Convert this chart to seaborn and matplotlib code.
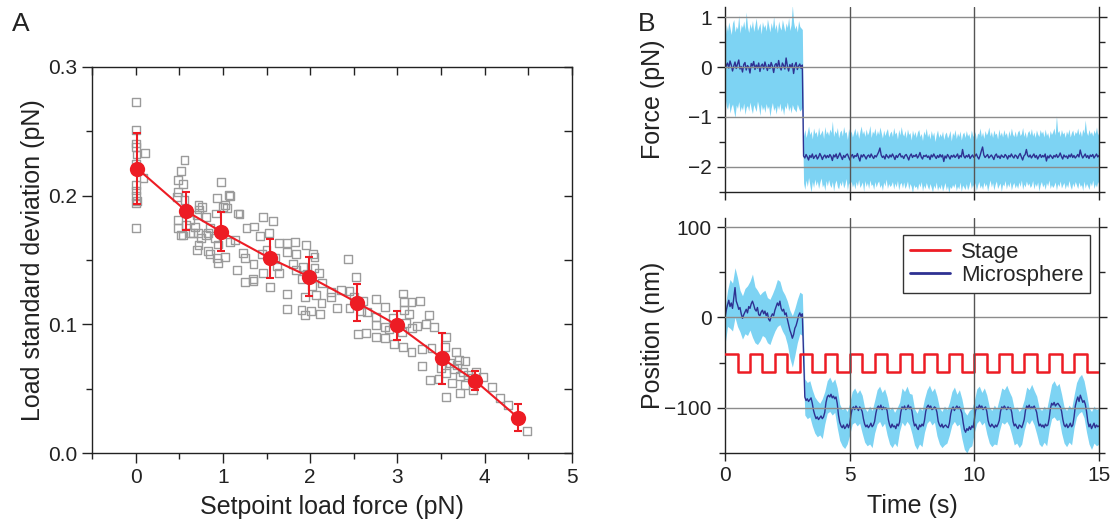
import numpy as np
import pandas as pd
import matplotlib
matplotlib.use("Agg")
import matplotlib.pyplot as plt
import seaborn as sns
from matplotlib.ticker import MultipleLocator, FixedLocator

# ---------------- Panel A data ----------------
scatter_x = [0.0, 0.0, 0.0, 0.0, 0.0, 0.0, 0.0, 0.0, 0.0, 0.0, 0.11, 0.09, 0.01, 0.02,
             0.56, 0.52, 0.54, 0.49, 0.49, 0.47, 0.72, 0.73, 0.81, 0.70, 0.49, 0.52, 0.68,
             0.71, 0.66, 0.75, 0.85, 0.81, 0.72, 0.83, 0.93, 0.94, 1.02, 0.93, 0.98, 1.07,
             1.02, 0.92, 1.17, 1.05, 0.91, 1.08, 1.14, 1.27, 1.23, 1.25, 1.16, 0.58, 0.62,
             0.49, 0.56, 1.25, 1.34, 1.19, 0.76, 0.54, 0.62, 0.70, 0.85, 1.00, 0.83, 0.94, 1.08,
             1.46, 1.57, 1.36, 1.42, 1.53, 1.64, 1.73, 1.83, 1.95, 1.73, 1.84, 2.03, 2.05,
             1.35, 1.35, 1.46, 1.54, 1.64, 1.80, 1.84, 1.92, 2.05, 2.14, 2.24, 2.35, 2.45,
             2.43, 2.52, 1.73, 1.94, 2.07, 2.13, 1.73, 1.90, 2.01, 2.11, 1.94, 2.31, 2.24,
             2.75, 2.65, 2.86, 2.75, 2.75, 2.86, 3.06, 3.16, 3.26, 3.07, 3.07, 3.13, 3.36,
             3.33, 3.42, 3.22, 3.17, 2.55, 2.64, 2.75, 2.86, 2.96, 3.06, 3.16, 3.28, 3.39,
             3.28, 1.96, 2.02, 1.90, 2.10, 1.60, 1.50, 1.45, 1.62, 2.50, 2.60, 2.45, 2.58,
             3.00, 2.95, 3.05, 2.90, 3.10,
             3.56, 3.54, 3.67, 3.77, 3.68, 3.37, 3.47, 3.56, 3.62, 3.72, 3.81, 3.77, 3.87,
             3.98, 4.08, 3.56, 3.72, 4.17, 4.27, 4.48, 3.60, 3.65, 3.70, 3.75, 3.50, 3.85, 3.90]
scatter_y = [0.273, 0.251, 0.2406, 0.238, 0.225, 0.208, 0.204, 0.200, 0.194, 0.175, 0.233, 0.214, 0.232, 0.196,
             0.2277, 0.2191, 0.2088, 0.2121, 0.2026, 0.1992, 0.1927, 0.1893, 0.1836, 0.1849, 0.1746, 0.1694, 0.1758,
             0.1707, 0.1707, 0.1668, 0.1746, 0.1694, 0.1616, 0.157, 0.1513, 0.1474, 0.1525, 0.1979, 0.2108, 0.2005,
             0.1927, 0.1862, 0.1862, 0.1901, 0.1668, 0.1642, 0.1655, 0.1751, 0.1552, 0.1513, 0.1422, 0.1772, 0.181,
             0.181, 0.1966, 0.133, 0.135, 0.186, 0.191, 0.169, 0.171, 0.158, 0.155, 0.191, 0.171, 0.162, 0.200,
             0.1836, 0.180, 0.176, 0.1686, 0.171, 0.163, 0.163, 0.164, 0.1616, 0.156, 0.155, 0.155, 0.1525,
             0.147, 0.134, 0.1396, 0.1287, 0.1396, 0.147, 0.142, 0.1447, 0.1435, 0.1323, 0.1253, 0.127, 0.126,
             0.1505, 0.1365, 0.1235, 0.121, 0.1228, 0.1168, 0.1117, 0.111, 0.1106, 0.108, 0.1072, 0.1124, 0.1215,
             0.1197, 0.1098, 0.1132, 0.1059, 0.0995, 0.0981, 0.124, 0.1176, 0.1183, 0.1176, 0.111, 0.108, 0.1072,
             0.1002, 0.0977, 0.0987, 0.0969, 0.0925, 0.0935, 0.0904, 0.0891, 0.0847, 0.0826, 0.0787, 0.0806, 0.0813,
             0.0676, 0.139, 0.130, 0.135, 0.140, 0.152, 0.158, 0.155, 0.145, 0.121, 0.118, 0.113, 0.110,
             0.100, 0.105, 0.094, 0.096, 0.101,
             0.0904, 0.0826, 0.0787, 0.0715, 0.0684, 0.0567, 0.0573, 0.0619, 0.0542, 0.0598, 0.0606, 0.0528, 0.049,
             0.0588, 0.051, 0.0438, 0.0464, 0.0425, 0.0373, 0.0173, 0.070, 0.065, 0.072, 0.063, 0.066, 0.058, 0.063]

mean_x = [0.02, 0.58, 0.98, 1.54, 1.99, 2.54, 3.00, 3.51, 3.89, 4.38]
mean_y = [0.221, 0.188, 0.172, 0.1513, 0.137, 0.1168, 0.0992, 0.0736, 0.0562, 0.0275]
mean_err = [0.0275, 0.015, 0.015, 0.015, 0.0153, 0.0144, 0.0113, 0.0197, 0.0074, 0.0103]

# ---------------- Panel B data ----------------
# Force (units of 0.01 pN)
force_pre_mid = [-5, 3, 8, -2, 12, 4, -8, 2, 10, -3, 6, 14, -4, 1, -10, 5, 9, -6, 3, 0, -12, 7, 2, 11,
                 -5, 4, -2, 8, -9, 3, 6, -4, 10, 1, -7, 5, -3, 9, 2, -11, 4, 7, -2, 13, 0, -6, 8, 3,
                 -4, 18, 2, -8, 5, -1, 7, -13, 3, 9, -5, 2, 6, -3, 4]
force_pre_hi = [55, 85, 72, 90, 78, 65, 88, 95, 70, 82, 76, 104, 68, 85, 79, 92, 74, 110, 81, 69, 87, 77,
                93, 71, 84, 98, 73, 80, 88, 66, 91, 79, 85, 72, 96, 83, 70, 89, 77, 102, 75, 86, 68, 92,
                80, 74, 95, 83, 71, 88, 79, 99, 73, 85, 124, 90, 76, 84, 70, 93, 81, 78, 75]
force_pre_lo = [-60, -78, -85, -70, -92, -80, -74, -88, -101, -76, -83, -69, -90, -79, -86, -72, -95, -81,
                -77, -88, -70, -84, -93, -75, -82, -89, -68, -80, -97, -74, -86, -79, -91, -73, -84, -78,
                -99, -82, -71, -87, -80, -94, -76, -85, -72, -89, -81, -96, -77, -84, -70, -88, -79, -92,
                -75, -83, -86, -90, -74, -82, -88, -85, -80]
force_post_mid = [
    -178, -182, -175, -180, -186, -177, -181, -174, -183, -179,
    -176, -184, -180, -173, -178, -185, -179, -176, -182, -177,
    -181, -175, -179, -187, -176, -180, -174, -183, -178, -172,
    -179, -185, -177, -181, -176, -174, -180, -186, -178, -175,
    -182, -177, -179, -173, -181, -188, -176, -180, -175, -179,
    -184, -178, -176, -181, -174, -179, -183, -177, -180, -175,
    -170, -162, -176, -181, -178, -184, -175, -179, -182, -176,
    -180, -174, -179, -185, -177, -181, -176, -173, -180, -178,
    -183, -177, -175, -180, -186, -178, -174, -181, -177, -179,
    -175, -182, -178, -171, -180, -184, -177, -179, -176, -181,
    -178, -185, -176, -180, -174, -179, -183, -177, -181, -175,
    -180, -176, -189, -178, -182, -175, -179, -184, -177, -180,
    -176, -181, -178, -174, -183, -177, -180, -165, -178, -182,
    -177, -180, -175, -183, -179, -176, -181, -178, -174, -180,
    -184, -177, -168, -160, -176, -181, -178, -175, -182, -179,
    -176, -180, -185, -177, -174, -181, -178, -183, -176, -179,
    -181, -175, -178, -184, -177, -180, -174, -179, -182, -176,
    -178, -183, -177, -173, -180, -186, -178, -175, -165, -177,
    -180, -176, -182, -178, -174, -181, -177, -184, -179, -175,
    -181, -177, -180, -174, -188, -178, -182, -176, -179, -183,
    -177, -180, -175, -181, -178, -172, -179, -184, -176, -180,
    -178, -183, -176, -180, -174, -181, -177, -182, -179, -175,
    -180, -166, -176, -182, -178, -174, -181, -177, -183, -176,
    -179, -175, -182, -178, -174, -180, -177]
force_post_hi = [
    -138, -125, -141, -130, -118, -135, -128, -144, -122, -133,
    -129, -140, -120, -136, -131, -126, -143, -119, -134, -128,
    -137, -124, -131, -108, -139, -127, -133, -121, -142, -130,
    -126, -138, -119, -132, -129, -145, -123, -135, -128, -140,
    -131, -122, -137, -126, -143, -129, -118, -134, -127, -139,
    -124, -136, -130, -117, -141, -128, -133, -122, -138, -127,
    -135, -120, -131, -142, -126, -137, -129, -123, -140, -132,
    -128, -139, -121, -134, -130, -144, -125, -136, -119, -133,
    -138, -127, -142, -124, -135, -131, -146, -126, -137, -129,
    -141, -130, -125, -139, -133, -147, -128, -136, -122, -140,
    -132, -144, -127, -138, -130, -149, -135, -126, -141, -133,
    -139, -128, -145, -134, -130, -142, -136, -127, -148, -131,
    -137, -125, -143, -132, -139, -128, -146, -134, -130, -141,
    -127, -138, -133, -144, -126, -136, -140, -129, -145, -132,
    -135, -122, -139, -130, -143, -127, -136, -131, -120, -138,
    -129, -141, -126, -135, -132, -144, -124, -137, -130, -140,
    -125, -136, -131, -143, -127, -138, -122, -134, -139, -128,
    -140, -130, -126, -137, -133, -121, -139, -129, -142, -131,
    -127, -136, -123, -138, -130, -141, -126, -134, -139, -125,
    -133, -128, -140, -124, -137, -131, -143, -127, -135, -130,
    -122, -136, -97, -131, -127, -139, -125, -134, -130, -141,
    -128, -135, -124, -140, -131, -126, -138, -129, -133, -122,
    -136, -127, -139, -124, -132, -106, -130, -137, -125, -134,
    -129, -138, -126, -133, -120, -136, -128]
force_post_lo = [
    -232, -245, -226, -239, -221, -236, -250, -229, -241, -224,
    -237, -228, -243, -231, -222, -240, -234, -247, -227, -238,
    -225, -236, -241, -229, -248, -233, -226, -239, -244, -230,
    -238, -227, -242, -235, -223, -246, -231, -237, -228, -240,
    -233, -244, -229, -238, -225, -241, -236, -230, -249, -227,
    -239, -231, -243, -226, -237, -234, -245, -229, -240, -232,
    -228, -241, -235, -247, -230, -238, -224, -243, -233, -239,
    -236, -229, -244, -232, -240, -227, -246, -234, -231, -242,
    -230, -243, -237, -228, -245, -233, -239, -252, -235, -241,
    -238, -246, -232, -240, -229, -248, -236, -243, -231, -239,
    -245, -233, -241, -250, -236, -243, -230, -247, -238, -244,
    -234, -248, -240, -231, -246, -237, -252, -239, -243, -235,
    -241, -232, -247, -238, -244, -230, -249, -236, -240, -245,
    -233, -246, -239, -228, -243, -235, -241, -231, -247, -237,
    -229, -242, -236, -245, -230, -239, -233, -248, -237, -226,
    -240, -231, -246, -235, -228, -243, -237, -232, -249, -234,
    -238, -227, -244, -233, -240, -229, -246, -236, -231, -242,
    -235, -243, -230, -239, -226, -245, -234, -240, -228, -237,
    -232, -241, -237, -227, -244, -233, -239, -230, -248, -236,
    -229, -240, -234, -245, -231, -238, -226, -243, -235, -241,
    -237, -230, -246, -233, -239, -228, -242, -236, -231, -244,
    -234, -241, -227, -238, -245, -232, -240, -229, -236, -243,
    -230, -239, -235, -247, -228, -242, -233, -238, -245, -231,
    -238, -226, -243, -234, -240, -229, -236]

# Position (nm)
pos_pre_mid = [0, 8, 14, 19, 12, 16, 10, 22, 33, 18, 14, 9, 11, 4, -1, 3, 6, 9, 5, 12, 10, 15, 18, 14,
               9, 7, 11, 3, 2, 6, 8, 4, 7, 2, 5, -2, -4, 1, 4, 2, 8, 12, 16, 13, 18, 10, 7, 9, 3, 5,
               -2, -8, -14, -18, -23, -19, -12, -9, -4, 2, 5, 1, 4]
pos_pre_hi = [10, 30, 42, 38, 55, 44, 30, 24, 32, 35, 40, 48, 34, 30, 25, 28, 30, 22, 20, 26, 33, 42,
              40, 30, 25, 18, 8, 2, 10, 20, 28, 26]
pos_pre_lo = [-30, -10, -12, -15, 0, -10, -16, -24, -18, -20, -14, -22, -28, -30, -26, -20, -22, -28,
              -30, -22, -15, -10, -8, -15, -20, -30, -45, -55, -42, -28, -18, -20]
pos_post_mid = [
    -88, -92, -90, -93, -91, -89,
    -95, -103, -108, -112, -110, -113, -111, -109, -112, -110,
    -105, -94, -88, -86, -88, -85, -89, -87, -90, -88,
    -95, -108, -116, -120, -122, -119, -123, -121, -118, -122,
    -118, -108, -101, -99, -102, -98, -100, -103, -99, -101,
    -104, -112, -118, -121, -119, -122, -120, -117, -121, -119,
    -115, -106, -100, -98, -101, -97, -102, -99, -101, -100,
    -103, -113, -119, -122, -118, -121, -120, -123, -118, -120,
    -116, -105, -99, -101, -98, -102, -100, -97, -101, -99,
    -104, -114, -120, -118, -122, -124, -119, -121, -118, -120,
    -114, -104, -99, -97, -100, -98, -102, -101, -99, -100,
    -105, -115, -119, -121, -118, -122, -120, -119, -121, -122,
    -117, -107, -101, -99, -103, -100, -98, -101, -99, -102,
    -106, -116, -124, -127, -123, -125, -121, -124, -120, -122,
    -113, -103, -99, -101, -97, -100, -98, -102, -100, -99,
    -104, -114, -119, -121, -118, -120, -122, -119, -121, -118,
    -114, -104, -99, -101, -98, -100, -102, -99, -101, -100,
    -105, -115, -120, -118, -121, -123, -119, -120, -122, -118,
    -113, -103, -98, -100, -97, -101, -99, -100, -98, -101,
    -105, -114, -120, -118, -121, -119, -122, -118, -120, -119,
    -112, -101, -95, -97, -94, -98, -96, -95, -97, -99,
    -104, -113, -119, -121, -118, -122, -120, -117, -121, -119,
    -110, -98, -92, -88, -93, -86, -90, -94, -92, -96,
    -104, -115, -121, -118, -123, -120, -117, -122, -119, -121,
    -120]
pos_post_hi = [
    -68, -72, -70,
    -80, -88, -92, -95, -90, -82, -70, -66, -72, -68,
    -78, -96, -102, -100, -104, -95, -82, -78, -84, -80,
    -86, -100, -104, -98, -103, -92, -80, -76, -83, -79,
    -88, -102, -99, -105, -100, -94, -78, -82, -76, -84,
    -85, -101, -106, -99, -103, -90, -80, -75, -82, -78,
    -87, -100, -104, -98, -102, -94, -82, -77, -85, -80,
    -90, -104, -108, -103, -101, -92, -79, -76, -83, -78,
    -86, -99, -103, -97, -101, -90, -78, -80, -75, -82,
    -88, -101, -99, -104, -100, -91, -77, -80, -74, -81,
    -87, -100, -103, -98, -102, -88, -74, -70, -76, -73,
    -85, -99, -103, -97, -101, -86, -72, -66, -63, -70,
    -84, -100, -104, -98, -102, -100]
pos_post_lo = [
    -108, -112, -110,
    -120, -128, -132, -130, -134, -118, -106, -104, -108, -105,
    -122, -136, -142, -145, -140, -130, -118, -116, -120, -117,
    -128, -138, -142, -140, -144, -128, -118, -115, -121, -117,
    -130, -140, -144, -139, -143, -126, -116, -120, -115, -119,
    -129, -141, -146, -140, -143, -127, -117, -114, -119, -116,
    -131, -140, -144, -141, -139, -130, -119, -115, -120, -118,
    -134, -146, -150, -144, -142, -127, -117, -114, -119, -116,
    -129, -139, -143, -140, -141, -126, -116, -118, -115, -120,
    -130, -141, -139, -144, -140, -125, -115, -118, -113, -119,
    -129, -140, -143, -138, -142, -124, -112, -110, -114, -113,
    -128, -139, -143, -138, -141, -122, -110, -106, -104, -111,
    -127, -140, -146, -139, -142, -140]
stage_nm = [-40, -60, -40, -60, -40, -60, -40, -60, -40, -60, -40, -60, -40, -60, -40, -60,
            -40, -60, -40, -60, -40, -60, -40, -60, -40, -60, -40, -60, -40, -60, -60]

# ---------------- Styling ----------------
sns.set_theme(style="white")
plt.rcParams['font.family'] = ['Liberation Sans', 'DejaVu Sans']
plt.rcParams['axes.unicode_minus'] = True

RED = '#ED1C24'
NAVY = '#2E3192'
LIGHT = '#7DD3F3'
GRAY_SQ = '#9B9B9B'
GRID = '#8C8C8C'
INK = '#222222'
TICK_FS = 15
LABEL_FS = 18

fig = plt.figure(figsize=(11.11, 5.23), dpi=100)
axA = fig.add_axes([0.0828, 0.1338, 0.4321, 0.7381])
axF = fig.add_axes([0.6526, 0.6329, 0.3366, 0.3537])
axP = fig.add_axes([0.6526, 0.1338, 0.3366, 0.4494])

# ---------- Panel A ----------
sns.scatterplot(x=scatter_x, y=scatter_y, ax=axA, marker='s', s=32,
                facecolor='none', edgecolor=GRAY_SQ, linewidth=1.0, zorder=2)
sns.lineplot(x=mean_x, y=mean_y, ax=axA, color=RED, lw=1.5, estimator=None, sort=False,
             marker='o', markersize=11, markeredgewidth=0, zorder=4)
axA.errorbar(mean_x, mean_y, yerr=mean_err, fmt='none', ecolor=RED, elinewidth=1.5,
             capsize=3, capthick=1.5, zorder=3)
axA.set_xlim(-0.5, 5)
axA.set_ylim(0, 0.3)
axA.xaxis.set_major_locator(MultipleLocator(1))
axA.xaxis.set_minor_locator(MultipleLocator(0.5))
axA.set_yticks([0, 0.1, 0.2, 0.3])
axA.set_yticklabels(['0.0', '0.1', '0.2', '0.3'])
axA.yaxis.set_minor_locator(MultipleLocator(0.05))
axA.tick_params(axis='both', which='both', direction='out', labelsize=TICK_FS, colors=INK,
                top=False, right=False, left=True, bottom=True)
axA.tick_params(which='major', length=7, width=1)
axA.tick_params(which='minor', length=4, width=1)
for sp in axA.spines.values():
    sp.set_color(INK)
    sp.set_linewidth(1.0)

# inward ticks on the top and right edges
axT = axA.twiny()
axT.set_xlim(axA.get_xlim())
axT.xaxis.set_major_locator(MultipleLocator(0.5))
axT.tick_params(axis='x', direction='in', length=6, width=1, top=True, bottom=False,
                labeltop=False, labelbottom=False, colors=INK)
axR = axA.twinx()
axR.set_ylim(axA.get_ylim())
axR.yaxis.set_major_locator(MultipleLocator(0.05))
axR.tick_params(axis='y', direction='in', length=6, width=1, right=True, left=False,
                labelright=False, labelleft=False, colors=INK)
for tw in (axT, axR):
    for sp in tw.spines.values():
        sp.set_visible(False)

axA.set_xlabel('Setpoint load force (pN)', fontsize=LABEL_FS, color=INK, labelpad=6)
axA.set_ylabel('Load standard deviation (pN)', fontsize=LABEL_FS, color=INK)
axA.yaxis.set_label_coords(-0.098, 0.5)

# ---------- Panel B: force ----------
t_f_pre = np.linspace(0, 3.1, len(force_pre_mid))
t_f_post = np.linspace(3.15, 15, len(force_post_mid))
t_fb_pre = np.linspace(0, 3.1, len(force_pre_hi))
t_fb_post = np.linspace(3.15, 15, len(force_post_hi))
tb = np.concatenate([t_fb_pre, t_fb_post])
fhi = np.concatenate([force_pre_hi, force_post_hi]) / 100.0
flo = np.concatenate([force_pre_lo, force_post_lo]) / 100.0
axF.fill_between(tb, flo, fhi, color=LIGHT, lw=0, zorder=1)
sns.lineplot(x=np.concatenate([t_f_pre, t_f_post]),
             y=np.concatenate([force_pre_mid, force_post_mid]) / 100.0,
             ax=axF, color=NAVY, lw=1.0, estimator=None, sort=False, zorder=2)
axF.set_xlim(0, 15)
axF.set_ylim(-2.5, 1.2)
axF.set_yticks([1, 0, -1, -2])
axF.set_yticklabels(['1', '0', '\u22121', '\u22122'])
axF.yaxis.set_minor_locator(MultipleLocator(0.5))
axF.set_xticks([0, 5, 10, 15])
axF.set_xticklabels([])

# ---------- Panel B: position ----------
t_p_pre = np.linspace(0, 3.1, len(pos_pre_mid))
t_p_post = np.linspace(3.2, 15, len(pos_post_mid))
t_pb_pre = np.linspace(0, 3.1, len(pos_pre_hi))
t_pb_post = np.linspace(3.2, 15, len(pos_post_hi))
tpb = np.concatenate([t_pb_pre, t_pb_post])
axP.fill_between(tpb, np.concatenate([pos_pre_lo, pos_post_lo]),
                 np.concatenate([pos_pre_hi, pos_post_hi]), color=LIGHT, lw=0, zorder=1)
t_stage = np.arange(len(stage_nm)) * 0.5
sns.lineplot(x=t_stage, y=stage_nm, ax=axP, color=RED, lw=1.8, estimator=None, sort=False,
             drawstyle='steps-post', label='Stage', zorder=3)
sns.lineplot(x=np.concatenate([t_p_pre, t_p_post]),
             y=np.concatenate([pos_pre_mid, pos_post_mid]),
             ax=axP, color=NAVY, lw=1.0, estimator=None, sort=False, label='Microsphere', zorder=2)
axP.set_xlim(0, 15)
axP.set_ylim(-150, 110)
axP.set_yticks([100, 0, -100])
axP.set_yticklabels(['100', '0', '\u2212100'])
axP.yaxis.set_minor_locator(MultipleLocator(50))
axP.set_xticks([0, 5, 10, 15])
axP.set_xticklabels(['0', '5', '10', '15'])

for ax in (axF, axP):
    ax.spines['top'].set_visible(False)
    for s in ('left', 'right', 'bottom'):
        ax.spines[s].set_color(INK)
        ax.spines[s].set_linewidth(1.0)
    ax.tick_params(axis='both', which='both', direction='out', labelsize=TICK_FS, colors=INK)
    ax.tick_params(axis='y', which='both', left=True, right=True)
    ax.tick_params(axis='x', which='both', bottom=True, top=False)
    ax.tick_params(which='major', length=6, width=1)
    ax.tick_params(which='minor', length=4, width=1)
    ax.grid(False)
    for yv in ax.get_yticks():
        ax.axhline(yv, color=GRID, lw=1.0, zorder=5)
    for xv in (5, 10):
        ax.axvline(xv, color='#555555', lw=1.0, zorder=5)

axF.set_ylabel('Force (pN)', fontsize=LABEL_FS, color=INK)
axP.set_ylabel('Position (nm)', fontsize=LABEL_FS, color=INK)
axF.yaxis.set_label_coords(-0.16, 0.5)
axP.yaxis.set_label_coords(-0.16, 0.5)
axP.set_xlabel('Time (s)', fontsize=LABEL_FS, color=INK, labelpad=6)

leg = axP.legend(loc='upper right', bbox_to_anchor=(0.976, 0.928), fontsize=16, frameon=True,
                 fancybox=False, edgecolor='#333333', framealpha=1, handlelength=1.8,
                 handletextpad=0.5, labelspacing=0.12, borderpad=0.3, borderaxespad=0)
leg.get_frame().set_linewidth(1.0)
leg.set_zorder(10)
for line in leg.get_lines():
    line.set_linewidth(2.0)

fig.text(0.011, 0.978, 'A', fontsize=19, va='top', ha='left', color=INK)
fig.text(0.574, 0.978, 'B', fontsize=19, va='top', ha='left', color=INK)

fig.savefig('out.png', dpi=100)
